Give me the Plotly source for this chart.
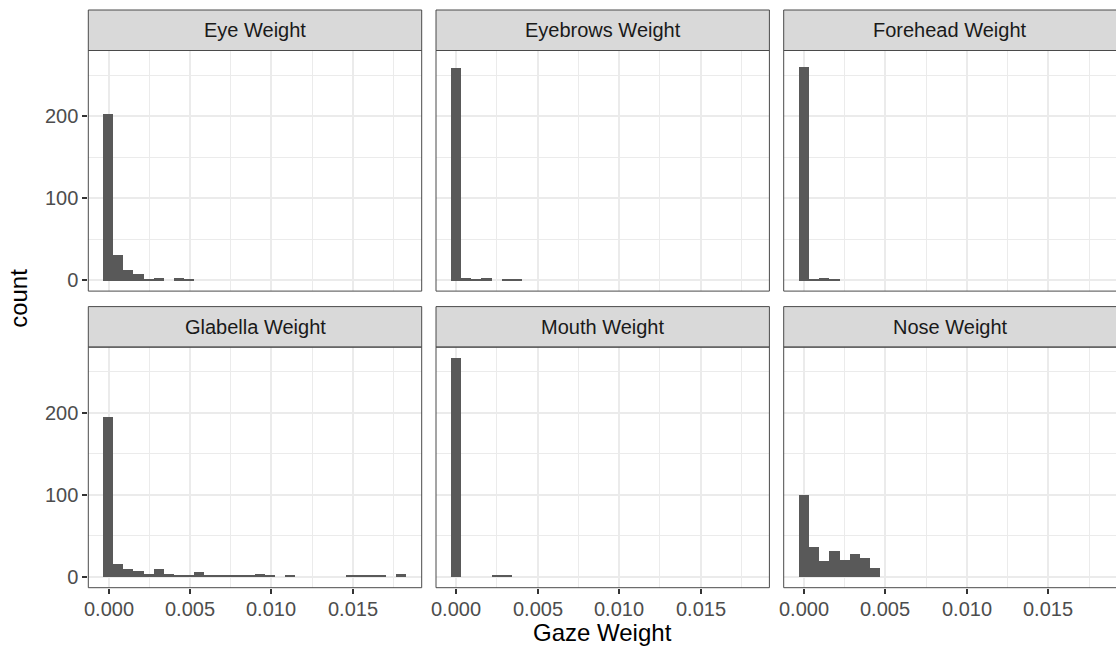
import plotly.graph_objects as go

# ---- data ----
bin_width = 0.00062
panel_titles = ["Eye Weight", "Eyebrows Weight", "Forehead Weight",
                "Glabella Weight", "Mouth Weight", "Nose Weight"]
eye = [204, 31, 13, 8, 1, 3, 0, 3, 1]
eyebrows = [259, 3, 1, 3, 0, 1, 1]
forehead = [261, 1, 3, 1]
glabella = [195, 16, 9, 7, 3, 9, 3, 1, 2, 6, 2, 2, 1, 1, 1, 3, 1, 0, 1,
            0, 0, 0, 0, 0, 1, 1, 1, 1, 0, 3]
mouth = [267, 0, 0, 0, 1, 1]
nose = [100, 36, 19, 31, 20, 28, 23, 10]
series = [eye, eyebrows, forehead, glabella, mouth, nose]

x_tickvals = [0.0, 0.005, 0.010, 0.015]
x_ticktext = ["0.000", "0.005", "0.010", "0.015"]
y_tickvals = [0, 100, 200]
y_ticktext = ["0", "100", "200"]

# ---- layout geometry (pixels) ----
W, H = 1116, 652
col_left = [88.3, 436.0, 783.7]
col_w = 333.4
row_strip_top = [10.0, 306.6]
strip_h = 40.5
panel_h = 240.6
xr = [-0.00124, 0.01922]
yr = [-13.35, 280.35]

FONT = "Liberation Sans, Arial, Helvetica, sans-serif"
GRID = "#EBEBEB"
BORDER = "#4a4a4a"

def px(x):
    return x / W

def py(y):
    return 1 - y / H

fig = go.Figure()
shapes = []
annotations = []

for i, (title, counts) in enumerate(zip(panel_titles, series)):
    r, c = divmod(i, 3)
    n = i + 1
    xa = "x" if n == 1 else f"x{n}"
    ya = "y" if n == 1 else f"y{n}"
    centers = [k * bin_width for k in range(len(counts))]
    fig.add_trace(go.Bar(x=centers, y=counts, width=bin_width,
                         marker=dict(color="#595959", line=dict(width=0)),
                         xaxis=xa, yaxis=ya, showlegend=False,
                         hovertemplate="%{x:.4f}: %{y}<extra></extra>"))
    x0 = col_left[c]
    x1 = min(x0 + col_w, W)
    st = row_strip_top[r]
    p0 = st + strip_h
    p1 = p0 + panel_h
    frac = (x1 - x0) / col_w
    rng_x = [xr[0], xr[0] + (xr[1] - xr[0]) * frac]
    xkey = "xaxis" if n == 1 else f"xaxis{n}"
    ykey = "yaxis" if n == 1 else f"yaxis{n}"
    bottom = (r == 1)
    left = (c == 0)
    fig.layout[xkey] = dict(
        domain=[px(x0), px(x1)], anchor=ya, range=rng_x, fixedrange=True,
        tickvals=x_tickvals, ticktext=x_ticktext, showticklabels=False,
        ticks="outside" if bottom else "", ticklen=5, tickwidth=1.5,
        tickcolor="#333333", showgrid=True, gridcolor=GRID, gridwidth=2,
        minor=dict(tickvals=[0.0025, 0.0075, 0.0125, 0.0175], showgrid=True,
                   gridcolor=GRID, gridwidth=1, ticks=""),
        zeroline=False, showline=False)
    fig.layout[ykey] = dict(
        domain=[py(p1), py(p0)], anchor=xa, range=yr, fixedrange=True,
        tickvals=y_tickvals, ticktext=y_ticktext, showticklabels=left,
        ticks="outside" if left else "", ticklen=5, tickwidth=1.5,
        tickcolor="#333333", showgrid=True, gridcolor=GRID, gridwidth=2,
        minor=dict(tickvals=[50, 150, 250], showgrid=True,
                   gridcolor=GRID, gridwidth=1, ticks=""),
        zeroline=False, showline=False,
        tickfont=dict(family=FONT, size=20, color="#4D4D4D"))
    if bottom:
        for tv, tt in zip(x_tickvals, x_ticktext):
            annotations.append(dict(text=tt, xref=xa, yref="paper",
                                    x=tv, y=py(p1 + 8), xanchor="center",
                                    yanchor="top", showarrow=False,
                                    font=dict(family=FONT, size=20, color="#4D4D4D")))
    # strip
    shapes.append(dict(type="rect", xref="paper", yref="paper",
                       x0=px(x0), x1=px(x1 if x1 < W else W + 2),
                       y0=py(p0), y1=py(st),
                       fillcolor="#D9D9D9", line=dict(color=BORDER, width=1),
                       layer="above"))
    # panel border
    shapes.append(dict(type="rect", xref="paper", yref="paper",
                       x0=px(x0), x1=px(x1 if x1 < W else W + 2),
                       y0=py(p1), y1=py(p0),
                       fillcolor="rgba(0,0,0,0)", line=dict(color=BORDER, width=1),
                       layer="above"))
    annotations.append(dict(text=title, xref="paper", yref="paper",
                            x=px(x0 + col_w / 2), y=py(st + strip_h / 2),
                            xanchor="center", yanchor="middle", showarrow=False,
                            font=dict(family=FONT, size=20, color="#1A1A1A")))

annotations.append(dict(text="Gaze Weight", xref="paper", yref="paper",
                        x=px((col_left[0] + col_left[2] + col_w) / 2), y=py(632),
                        xanchor="center", yanchor="middle", showarrow=False,
                        font=dict(family=FONT, size=24, color="#000000")))
annotations.append(dict(text="count", xref="paper", yref="paper",
                        x=px(19), y=py((row_strip_top[0] + row_strip_top[1] + strip_h + panel_h) / 2),
                        xanchor="center", yanchor="middle", showarrow=False,
                        textangle=-90,
                        font=dict(family=FONT, size=24, color="#000000")))

fig.update_layout(width=W, height=H, margin=dict(l=0, r=0, t=0, b=0),
                  paper_bgcolor="white", plot_bgcolor="white",
                  shapes=shapes, annotations=annotations, bargap=0,
                  font=dict(family=FONT))

fig.write_html("out.html")
